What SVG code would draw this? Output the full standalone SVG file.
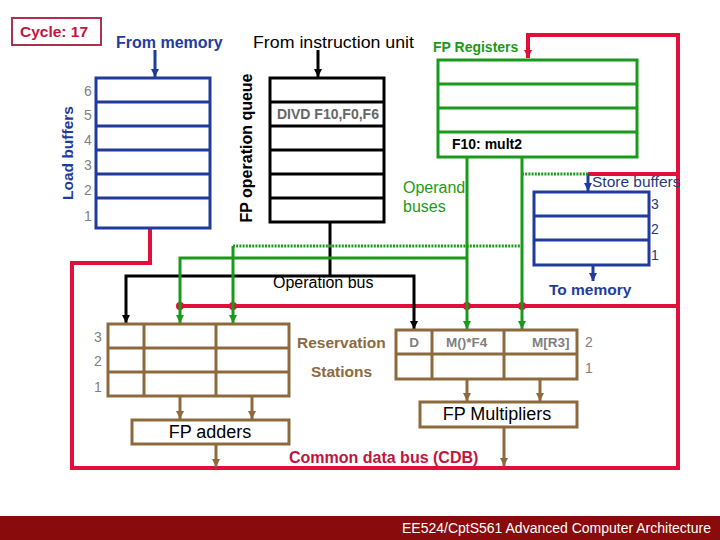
<svg xmlns="http://www.w3.org/2000/svg" width="720" height="540" viewBox="0 0 720 540">
<style>
text{font-family:"Liberation Sans",Arial,sans-serif}
.b{font-weight:bold}
.blue{stroke:#1f3c9c;stroke-width:3;fill:none}
.blk{stroke:#000;stroke-width:3;fill:none}
.grn{stroke:#1a9a1a;stroke-width:3;fill:none}
.brn{stroke:#8c6a3e;stroke-width:3;fill:none}
.red{stroke:#e0103a;stroke-width:4;fill:none}
.hatch{stroke:#1a9a1a;stroke-width:3;stroke-dasharray:2 1.2;fill:none}
.num{font-size:14px;fill:#7f7f7f}
</style>
<defs>
<marker id="aBlue" markerUnits="userSpaceOnUse" markerWidth="10" markerHeight="10" refX="8" refY="4" orient="auto"><path d="M0,0 L8,4 L0,8 z" fill="#1f3c9c"/></marker>
<marker id="aBlk" markerUnits="userSpaceOnUse" markerWidth="10" markerHeight="10" refX="8" refY="4" orient="auto"><path d="M0,0 L8,4 L0,8 z" fill="#000"/></marker>
<marker id="aGrn" markerUnits="userSpaceOnUse" markerWidth="10" markerHeight="10" refX="8" refY="4" orient="auto"><path d="M0,0 L8,4 L0,8 z" fill="#1a9a1a"/></marker>
<marker id="aBrn" markerUnits="userSpaceOnUse" markerWidth="10" markerHeight="10" refX="8" refY="4" orient="auto"><path d="M0,0 L8,4 L0,8 z" fill="#8c6a3e"/></marker>
<marker id="aRed" markerUnits="userSpaceOnUse" markerWidth="10" markerHeight="10" refX="8" refY="4" orient="auto"><path d="M0,0 L8,4 L0,8 z" fill="#e0103a"/></marker>
</defs>
<rect width="720" height="540" fill="#fff"/>

<g id="cycle">
<rect x="12" y="18" width="89" height="27" fill="#fff" stroke="#b03050" stroke-width="2"/>
<text x="20" y="37" class="b" font-size="15.5" fill="#c0143c">Cycle: 17</text>
</g>

<g id="connectors">
<path class="red" d="M150,229 V263 H72 V468 H678 V35 H528 V58" marker-end="url(#aRed)"/>
<path class="red" d="M180,306 H678"/>
<path class="red" d="M678,174 H588"/>
<circle cx="180" cy="306" r="4" fill="#e0103a"/>
<circle cx="233" cy="306" r="4" fill="#e0103a"/>
<circle cx="467" cy="306" r="4" fill="#e0103a"/>
<circle cx="522" cy="306" r="4" fill="#e0103a"/>
<path class="blue" d="M155,50 V77" marker-end="url(#aBlue)"/>
<path class="blue" d="M588,174 V191" stroke-width="2.5" marker-end="url(#aBlue)"/>
<path class="blue" d="M593,265 V281" stroke-width="2.5" marker-end="url(#aBlue)"/>
<path class="blk" d="M318,50 V77" marker-end="url(#aBlk)"/>
<path class="blk" d="M330,222 V276"/>
<path class="blk" d="M330,276 H126 V323" marker-end="url(#aBlk)"/>
<path class="blk" d="M330,276 H414 V329" marker-end="url(#aBlk)"/>
<path class="grn" d="M467,157 V329" marker-end="url(#aGrn)"/>
<path class="grn" d="M522,157 V329" marker-end="url(#aGrn)"/>
<path class="grn" d="M467,258 H180 V323" marker-end="url(#aGrn)"/>
<path class="grn" d="M233,246 V323" marker-end="url(#aGrn)"/>
<path class="hatch" d="M233,246 H522"/>
<path class="hatch" d="M522,174 H588"/>
<path class="brn" d="M180,396 V419" stroke-width="2.5" marker-end="url(#aBrn)"/>
<path class="brn" d="M252,396 V419" stroke-width="2.5" marker-end="url(#aBrn)"/>
<path class="brn" d="M216,444 V467" stroke-width="2.5" marker-end="url(#aBrn)"/>
<path class="brn" d="M467,379 V401" stroke-width="2.5" marker-end="url(#aBrn)"/>
<path class="brn" d="M540,379 V401" stroke-width="2.5" marker-end="url(#aBrn)"/>
<path class="brn" d="M504,427 V466" stroke-width="2.5" marker-end="url(#aBrn)"/>
</g>

<g id="load-buffers">
<text x="116" y="48" class="b" font-size="16" fill="#1f3c9c">From memory</text>
<rect class="blue" x="96" y="78" width="114" height="150"/>
<path class="blue" d="M96,102 H210 M96,126 H210 M96,150 H210 M96,174 H210 M96,198 H210"/>
<text x="73" y="153" class="b" font-size="15.5" fill="#1f3c9c" text-anchor="middle" transform="rotate(-90 73 153)">Load buffers</text>
<text x="84" y="96" class="num">6</text>
<text x="84" y="120" class="num">5</text>
<text x="84" y="145" class="num">4</text>
<text x="84" y="170" class="num">3</text>
<text x="84" y="195" class="num">2</text>
<text x="84" y="221" class="num">1</text>
</g>

<g id="fp-op-queue">
<text x="253" y="48" font-size="17" fill="#000" textLength="161" lengthAdjust="spacingAndGlyphs">From instruction unit</text>
<rect class="blk" x="270" y="78" width="114" height="144"/>
<path class="blk" d="M270,102 H384 M270,126 H384 M270,150 H384 M270,174 H384 M270,198 H384"/>
<text x="252" y="148" class="b" font-size="16" fill="#000" text-anchor="middle" transform="rotate(-90 252 148)">FP operation queue</text>
<text x="277" y="119" class="b" font-size="14" fill="#666">DIVD F10,F0,F6</text>
</g>

<g id="fp-registers">
<text x="433" y="52" class="b" font-size="14" fill="#1a9a1a">FP Registers</text>
<rect class="grn" x="438" y="60" width="199" height="97"/>
<path class="grn" d="M438,84 H637 M438,108 H637 M438,132 H637"/>
<text x="452" y="149" class="b" font-size="14" fill="#000">F10: mult2</text>
</g>

<g id="operand-label">
<text x="403" y="193" font-size="16" fill="#1a9a1a">Operand</text>
<text x="403" y="212" font-size="16" fill="#1a9a1a">buses</text>
</g>

<g id="store-buffers">
<text x="592" y="187" font-size="15.5" fill="#1f3c7c">Store buffers</text>
<rect class="blue" x="534" y="192" width="115" height="73"/>
<path class="blue" d="M534,216 H649 M534,240 H649"/>
<text x="651" y="209" font-size="14" fill="#1f3c7c">3</text>
<text x="651" y="234" font-size="14" fill="#1f3c7c">2</text>
<text x="651" y="260" font-size="14" fill="#1f3c7c">1</text>
<text x="549" y="295" class="b" font-size="15.5" fill="#1f3c9c">To memory</text>
</g>

<g id="operation-bus-label">
<text x="273" y="288" font-size="16" fill="#000">Operation bus</text>
</g>

<g id="adder-rs">
<rect class="brn" x="108" y="324" width="181" height="72"/>
<path class="brn" d="M108,348 H289 M108,372 H289 M144,324 V396 M216,324 V396"/>
<text x="94" y="342" class="num">3</text>
<text x="94" y="366" class="num">2</text>
<text x="94" y="392" class="num">1</text>
<text x="297" y="348" class="b" font-size="15.5" fill="#8c6a3e">Reservation</text>
<text x="311" y="377" class="b" font-size="15.5" fill="#8c6a3e">Stations</text>
</g>

<g id="fp-adders">
<rect class="brn" x="132" y="420" width="157" height="24" fill="#fff"/>
<text x="210" y="438" font-size="18" fill="#000" text-anchor="middle">FP adders</text>
</g>

<g id="mult-rs">
<rect class="brn" x="396" y="330" width="181" height="49"/>
<path class="brn" d="M396,354 H577 M432,330 V379 M504,330 V379"/>
<text x="414" y="347" class="b" font-size="13.5" fill="#7f7f7f" text-anchor="middle">D</text>
<text x="446" y="347" class="b" font-size="13.5" fill="#7f7f7f">M()*F4</text>
<text x="532" y="347" class="b" font-size="13.5" fill="#7f7f7f">M[R3]</text>
<text x="585" y="347" class="num">2</text>
<text x="585" y="373" class="num">1</text>
</g>

<g id="fp-multipliers">
<rect class="brn" x="420" y="402" width="157" height="25" fill="#ffff00"/>
<text x="497" y="420" font-size="18" fill="#000" text-anchor="middle">FP Multipliers</text>
</g>

<g id="cdb-label">
<text x="289" y="463" class="b" font-size="16" fill="#c0143c">Common data bus (CDB)</text>
</g>

<g id="footer">
<rect x="0" y="516" width="720" height="24" fill="#8a0b0b"/>
<text x="402" y="533" font-size="14" fill="#fff">EE524/CptS561 Advanced Computer Architecture</text>
</g>
</svg>
